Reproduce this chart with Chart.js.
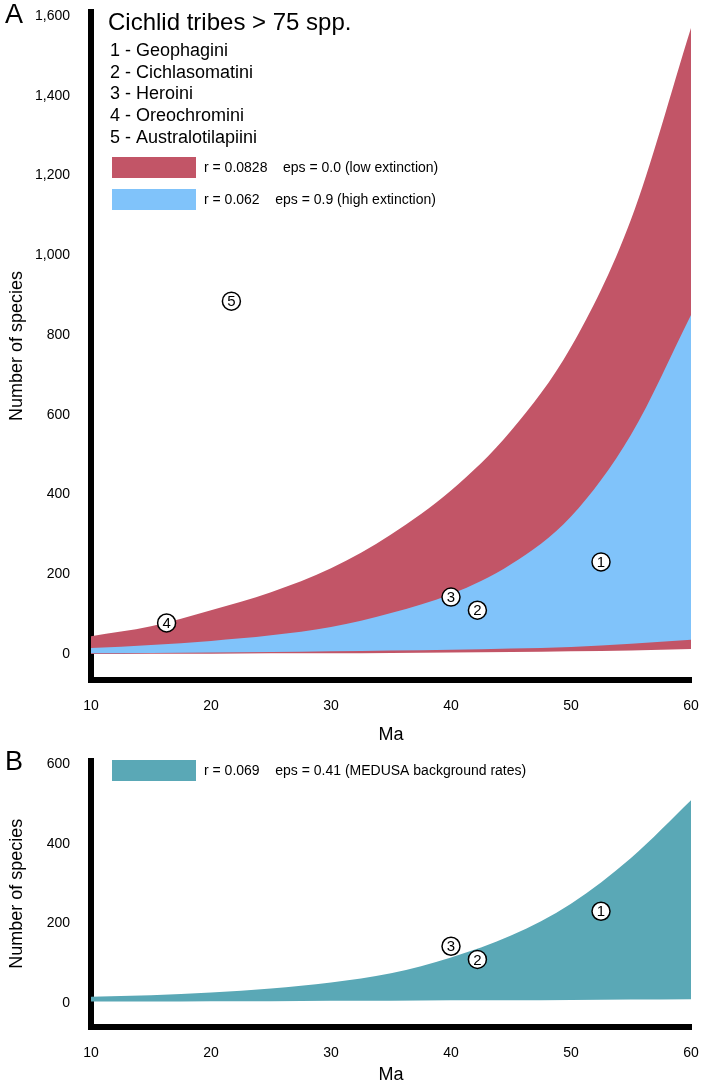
<!DOCTYPE html>
<html><head><meta charset="utf-8">
<script src="https://cdn.jsdelivr.net/npm/chart.js@4.4.1/dist/chart.umd.min.js"></script>
<style>
html,body{margin:0;padding:0;background:#fff;overflow:hidden;}
#wrapA{position:absolute;left:0;top:0;width:706px;height:750px;}
#wrapB{position:absolute;left:0;top:750px;width:706px;height:340px;}
</style></head><body>
<div id="wrapA"><canvas id="chartA"></canvas></div>
<div id="wrapB"><canvas id="chartB"></canvas></div>
<script>
// ---- data ----
const ma = [10, 15, 20, 25, 30, 35, 40, 45, 50, 55, 60];
const lowExtUpper  = [45, 70, 110, 155, 215, 300, 410, 560, 770, 1090, 1570];
const lowExtLower  = [0, 1, 1, 2, 2, 3, 4, 5, 7, 9, 13];
const highExtUpper = [15, 23, 33, 47, 68, 103, 150, 225, 345, 550, 850];
const highExtLower = [2, 3, 4, 5, 7, 9, 11, 14, 18, 26, 36];
const medusaUpper  = [16, 20, 27, 37, 52, 75, 115, 170, 250, 365, 510];
const medusaLower  = [4, 4, 5, 5, 6, 6, 7, 7, 8, 9, 10];

const tribeNums  = ['1', '2', '3', '4', '5'];
const tribeNames = ['Geophagini', 'Cichlasomatini', 'Heroini', 'Oreochromini', 'Australotilapiini'];
const tribeAge   = [52.5, 42.2, 40.0, 16.3, 21.7];
const tribeSpp   = [231, 110, 143, 78, 885];
const panelBTribes = [0, 1, 2];

const yTicksA = [0, 200, 400, 600, 800, 1000, 1200, 1400, 1600];
const yTicksB = [0, 200, 400, 600];
const xTicks  = [10, 20, 30, 40, 50, 60];

const legendA = ['r = 0.0828    eps = 0.0 (low extinction)', 'r = 0.062    eps = 0.9 (high extinction)'];
const legendB = ['r = 0.069    eps = 0.41 (MEDUSA background rates)'];

// ---- styles ----
const RED = '#c25567', BLUE = '#80c3fa', TEAL = '#5aa8b6';
const FONT = "'Liberation Sans', Arial, sans-serif";

const pts = (xs, ys) => xs.map((x, i) => ({x: x, y: ys[i]}));

function areaDS(data, color, fillTarget, order) {
  return {type: 'line', data: data, borderWidth: 0, borderColor: color, backgroundColor: color,
    pointRadius: 0, fill: fillTarget, order: order, tension: 0.4, cubicInterpolationMode: 'monotone'};
}

const markerPlugin = {
  id: 'markerLabels',
  afterDatasetsDraw(chart) {
    const ctx = chart.ctx;
    chart.data.datasets.forEach((ds, i) => {
      if (!ds.isMarker) return;
      const meta = chart.getDatasetMeta(i);
      meta.data.forEach((el, j) => {
        ctx.save();
        ctx.fillStyle = '#000';
        ctx.font = '15px ' + FONT;
        ctx.textAlign = 'center';
        ctx.textBaseline = 'middle';
        ctx.fillText(ds.labelsText[j], el.x, el.y + 1);
        ctx.restore();
      });
    });
  }
};

function textPlugin(cfg) {
  return {
    id: 'annot' + cfg.key,
    afterDraw(chart) {
      const ctx = chart.ctx;
      ctx.save();
      ctx.fillStyle = '#000';
      ctx.textBaseline = 'middle';
      ctx.font = '27px ' + FONT;
      ctx.fillText(cfg.letter, 5, cfg.letterY);
      if (cfg.title) {
        ctx.font = '24px ' + FONT;
        ctx.fillText(cfg.title, 108, 23);
        ctx.font = '18px ' + FONT;
        cfg.items.forEach((t, i) => ctx.fillText(t, 110, 51 + i * 21.7));
      }
      cfg.legend.forEach((lg, i) => {
        ctx.fillStyle = lg.color;
        ctx.fillRect(112, cfg.legTop + i * 32, 84, 21);
        ctx.fillStyle = '#000';
        ctx.font = '14px ' + FONT;
        ctx.fillText(lg.text, 204, cfg.legTop + i * 32 + 11);
      });
      ctx.restore();
    }
  };
}

function makeScales(yMin, yMax, yTicks, xHeight) {
  return {
    x: {
      type: 'linear', min: 10, max: 60,
      grid: {display: false, drawTicks: false},
      border: {display: true, color: '#000', width: 6},
      afterBuildTicks: s => { s.ticks = xTicks.map(v => ({value: v})); },
      afterFit: s => { s.height = xHeight; s.paddingLeft = 0; s.paddingRight = 0; },
      ticks: {color: '#000', font: {family: FONT, size: 14}, padding: 18, maxRotation: 0},
      title: {display: true, text: 'Ma', color: '#000', font: {family: FONT, size: 18}, padding: {top: 5}}
    },
    y: {
      type: 'linear', min: yMin, max: yMax,
      grid: {display: false, drawTicks: false},
      border: {display: true, color: '#000', width: 6},
      afterBuildTicks: s => { s.ticks = yTicks.map(v => ({value: v})); },
      afterFit: s => { s.width = 91; s.paddingTop = 0; s.paddingBottom = 0; },
      ticks: {color: '#000', font: {family: FONT, size: 14}, padding: 21},
      title: {display: true, text: 'Number of species', color: '#000', font: {family: FONT, size: 18}, padding: {top: 6, bottom: 0}}
    }
  };
}

const commonOpts = {
  responsive: true, maintainAspectRatio: false, animation: false,
  plugins: {legend: {display: false}, tooltip: {enabled: false}}
};

// ---- Panel A ----
new Chart(document.getElementById('chartA'), {
  type: 'line',
  data: {
    datasets: [
      {type: 'scatter', isMarker: true, labelsText: tribeNums,
       data: pts(tribeAge, tribeSpp), pointRadius: 9, pointBackgroundColor: '#fff',
       pointBorderColor: '#000', pointBorderWidth: 1.5, order: 0},
      areaDS(pts(ma, highExtLower), BLUE, false, 1),
      areaDS(pts(ma, highExtUpper), BLUE, 1, 1),
      areaDS(pts(ma, lowExtLower), RED, false, 2),
      areaDS(pts(ma, lowExtUpper), RED, 3, 2)
    ]
  },
  options: Object.assign({}, commonOpts, {
    layout: {padding: {top: 12, right: 15, left: 0, bottom: 0}},
    scales: makeScales(-65, 1610, yTicksA, 70)
  }),
  plugins: [markerPlugin, textPlugin({key: 'A', letter: 'A', letterY: 16,
    title: 'Cichlid tribes > 75 spp.',
    items: tribeNums.map((n, i) => n + ' - ' + tribeNames[i]),
    legTop: 157,
    legend: [{color: RED, text: legendA[0]}, {color: BLUE, text: legendA[1]}]})]
});

// ---- Panel B ----
new Chart(document.getElementById('chartB'), {
  type: 'line',
  data: {
    datasets: [
      {type: 'scatter', isMarker: true, labelsText: panelBTribes.map(i => tribeNums[i]),
       data: panelBTribes.map(i => ({x: tribeAge[i], y: tribeSpp[i]})), pointRadius: 9,
       pointBackgroundColor: '#fff', pointBorderColor: '#000', pointBorderWidth: 1.5, order: 0},
      areaDS(pts(ma, medusaLower), TEAL, false, 1),
      areaDS(pts(ma, medusaUpper), TEAL, 1, 1)
    ]
  },
  options: Object.assign({}, commonOpts, {
    layout: {padding: {top: 9, right: 15, left: 0, bottom: 0}},
    scales: makeScales(-60, 610, yTicksB, 63)
  }),
  plugins: [markerPlugin, textPlugin({key: 'B', letter: 'B', letterY: 13,
    legTop: 10, legend: [{color: TEAL, text: legendB[0]}]})]
});
</script>
</body></html>
